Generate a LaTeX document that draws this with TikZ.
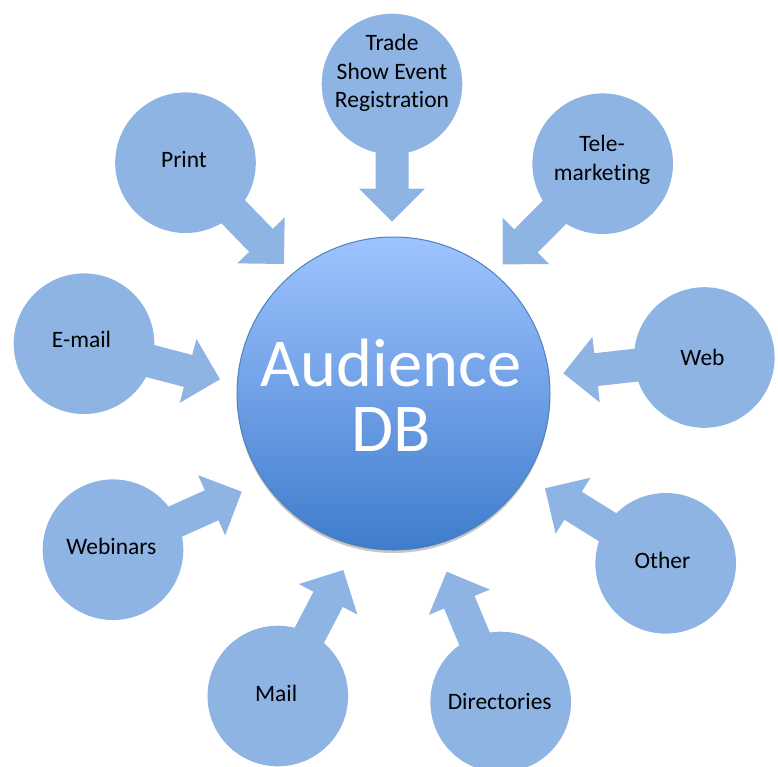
\documentclass[tikz,border=0pt]{standalone}
\usepackage{fontspec}
\setmainfont{Carlito}[Ligatures={NoCommon}]
\usetikzlibrary{calc,shadows}
\definecolor{satblue}{RGB}{142,180,227}
\definecolor{topblue}{RGB}{157,196,255}
\definecolor{midblue}{RGB}{112,160,230}
\definecolor{botblue}{RGB}{62,124,204}
\definecolor{rimblue}{RGB}{79,129,189}
\tikzset{
  sat/.style={circle, fill=satblue, minimum size=140.6pt, inner sep=0pt},
  lbl/.style={align=center, font=\fontsize{23.5}{28.8}\selectfont, text=black, inner sep=0pt},
  arrowfill/.style={fill=satblue},
  hub/.style={circle, minimum size=313pt, inner sep=0pt, draw=rimblue, line width=1pt,
    top color=topblue, bottom color=botblue, middle color=midblue,
    drop shadow={shadow xshift=0pt, shadow yshift=-3pt, opacity=0.22, fill=black}},
  hubtext/.style={align=center, font=\fontsize{68.5}{65}\selectfont, text=white, inner sep=0pt}
}
% block arrow from centre of node #1 to tip coordinate #2
\newcommand\blockarr[2]{%
  \path ($(#2)!33pt!(#1.center)$) coordinate (#2base);
  \fill[arrowfill] ($(#1.center)!16.5pt!90:(#2)$) -- ($(#2base)!16.5pt!90:(#2)$)
    -- ($(#2base)!33pt!90:(#2)$) -- (#2) -- ($(#2base)!33pt!-90:(#2)$)
    -- ($(#2base)!16.5pt!-90:(#2)$) -- ($(#1.center)!16.5pt!-90:(#2)$) -- cycle;
}
\begin{document}
\begin{tikzpicture}[x=1pt,y=-1pt]
\useasboundingbox (0,0) rectangle (778,766);

% satellites
\node[sat] (trade) at (392,84) {};
\node[sat] (print) at (185.5,162.7) {};
\node[sat] (tele) at (602.7,163.7) {};
\node[sat] (email) at (84,343.7) {};
\node[sat] (web) at (704.3,357.5) {};
\node[sat] (webinars) at (113,549.7) {};
\node[sat] (other) at (665.7,563.3) {};
\node[sat] (mail) at (277.8,696) {};
\node[sat] (dir) at (500.7,702) {};

% arrow tips
\coordinate (tradeT) at (392,221.7);
\coordinate (printT) at (284,264);
\coordinate (teleT) at (502.7,264.3);
\coordinate (emailT) at (220,379.3);
\coordinate (webT) at (563.3,373.3);
\coordinate (webinarsT) at (241.7,491.7);
\coordinate (otherT) at (545,488.3);
\coordinate (mailT) at (343.3,570);
\coordinate (dirT) at (446.7,571.7);

\blockarr{trade}{tradeT}
\blockarr{print}{printT}
\blockarr{tele}{teleT}
\blockarr{email}{emailT}
\blockarr{web}{webT}
\blockarr{webinars}{webinarsT}
\blockarr{other}{otherT}
\blockarr{mail}{mailT}
\blockarr{dir}{dirT}

% labels
\node[lbl] (tradeL) at (392,73) {Trade\\Show Event\\Registration};
\node[lbl] (printL) at (184,159.5) {Print};
\node[lbl] (teleL) at (602,160) {Tele-\\marketing};
\node[lbl] (emailL) at (81.5,339) {E-mail};
\node[lbl] (webL) at (702.5,357.7) {Web};
\node[lbl] (webinarsL) at (111.3,546.7) {Webinars};
\node[lbl] (otherL) at (662.5,560.7) {Other};
\node[lbl] (mailL) at (276.2,693.5) {Mail};
\node[lbl] (dirL) at (499.7,701) {Directories};

% hub
\node[hub] (hub) at (393.5,393.5) {};
\node[hubtext] (hubL) at (391,395.5) {Audience\\DB};
\end{tikzpicture}
\end{document}
